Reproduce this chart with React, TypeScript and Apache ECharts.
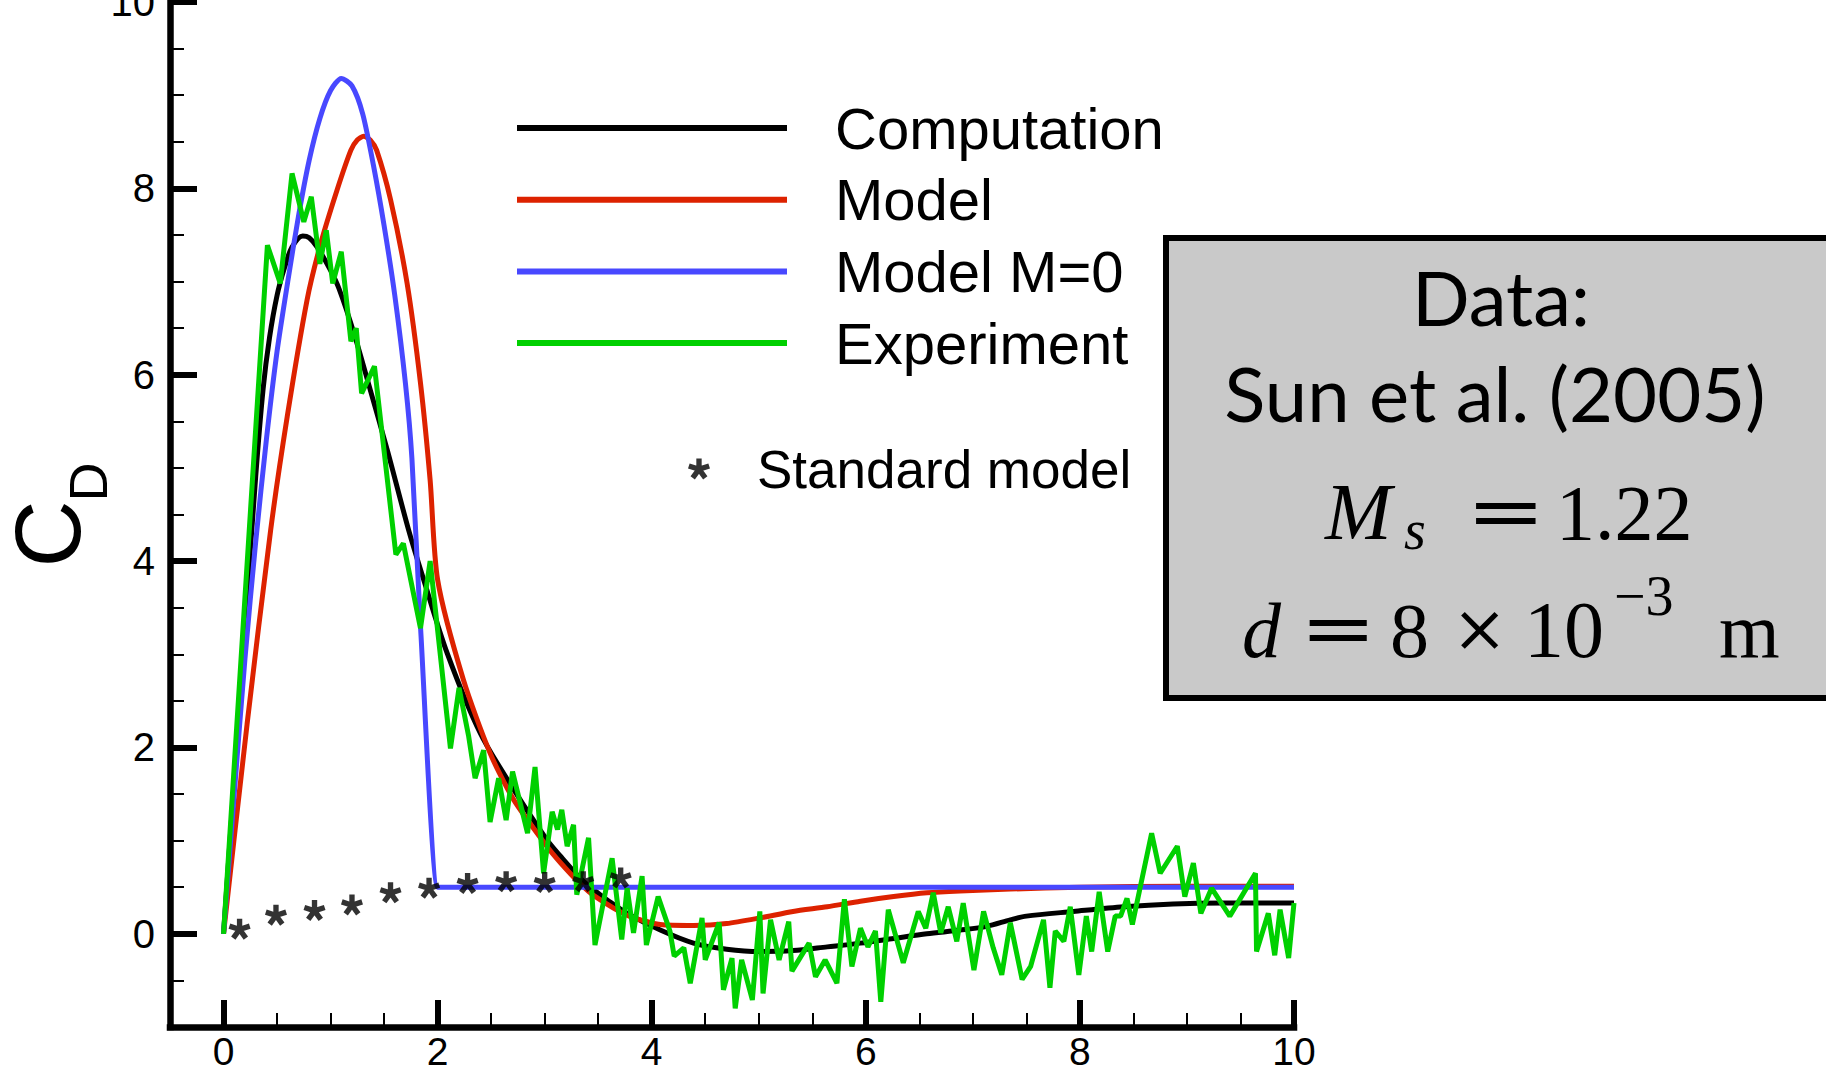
import React, { useEffect, useRef } from "react";
import * as echarts from "echarts";

// ---------------- data ----------------
const X_MAJOR = [0, 2, 4, 6, 8, 10];
const X_MINOR = [0.5, 1, 1.5, 2.5, 3, 3.5, 4.5, 5, 5.5, 6.5, 7, 7.5, 8.5, 9, 9.5];
const Y_MAJOR = [0, 2, 4, 6, 8, 10];
const Y_MINOR = [-0.5, 0.5, 1, 1.5, 2.5, 3, 3.5, 4.5, 5, 5.5, 6.5, 7, 7.5, 8.5, 9, 9.5];

const computation: [number, number][] = [
  [0, 0], [0.1, 1.65], [0.2, 3.3], [0.3, 4.9], [0.37, 5.85], [0.43, 6.4], [0.5, 6.85], [0.57, 7.15],
  [0.64, 7.37], [0.74, 7.49], [0.8, 7.47], [0.875, 7.37], [1.0, 7.12], [1.08, 6.92], [1.22, 6.44],
  [1.37, 5.84], [1.53, 5.19], [1.73, 4.33], [1.87, 3.8], [2.09, 3.01], [2.4, 2.15], [2.71, 1.55],
  [3.02, 1.01], [3.15, 0.83], [3.33, 0.6], [3.46, 0.47], [3.6, 0.35], [3.77, 0.22], [4.08, 0.04],
  [4.39, -0.1], [4.7, -0.165], [5.01, -0.19], [5.32, -0.18], [5.64, -0.14], [5.95, -0.1], [6.26, -0.05],
  [6.57, 0.0], [6.88, 0.04], [7.13, 0.08], [7.35, 0.15], [7.5, 0.19], [7.94, 0.24], [8.41, 0.29],
  [8.87, 0.32], [9.34, 0.33], [10, 0.33],
];

const model: [number, number][] = [
  [0, 0], [0.22, 2.25], [0.44, 4.33], [0.595, 5.55], [0.78, 6.8], [0.906, 7.4], [1.06, 7.98],
  [1.19, 8.41], [1.25, 8.52], [1.31, 8.56], [1.37, 8.52], [1.43, 8.41], [1.56, 7.88], [1.715, 6.98],
  [1.84, 5.91], [1.93, 4.87], [2.0, 3.8], [2.24, 2.73], [2.49, 1.94], [2.71, 1.44], [3.02, 0.94],
  [3.15, 0.76], [3.33, 0.54], [3.46, 0.41], [3.77, 0.2], [4.08, 0.1], [4.39, 0.09], [4.7, 0.11],
  [5.01, 0.17], [5.32, 0.24], [5.64, 0.29], [5.95, 0.35], [6.26, 0.4], [6.57, 0.44], [6.88, 0.46],
  [7.35, 0.48], [8, 0.5], [9, 0.51], [10, 0.51],
];

const modelM0: [number, number][] = [
  [0, 0], [0.1, 1.5], [0.2, 2.95], [0.3, 4.2], [0.4, 5.3], [0.5, 6.25], [0.6, 7.0], [0.7, 7.7],
  [0.8, 8.3], [0.9, 8.75], [1.0, 9.05], [1.1, 9.18], [1.2, 9.1], [1.3, 8.8], [1.4, 8.25], [1.5, 7.6],
  [1.6, 6.85], [1.7, 5.9], [1.76, 5.1], [1.84, 3.3], [2.0, 0.5], [2.04, 0.5], [10, 0.5],
];

const experiment: [number, number][] = [
  [0, 0], [0.41, 7.39], [0.53, 6.98], [0.64, 8.16], [0.75, 7.64], [0.82, 7.91], [0.9, 7.19], [0.96, 7.55],
  [1.02, 6.98], [1.1, 7.32], [1.19, 6.36], [1.24, 6.5], [1.29, 5.8], [1.41, 6.09], [1.61, 4.07],
  [1.68, 4.19], [1.84, 3.28], [1.93, 4.0], [2.12, 1.99], [2.2, 2.64], [2.29, 2.12], [2.35, 1.67],
  [2.43, 1.97], [2.49, 1.2], [2.57, 1.67], [2.64, 1.22], [2.7, 1.74], [2.84, 1.08], [2.91, 1.79],
  [2.99, 0.65], [3.07, 1.31], [3.12, 1.12], [3.16, 1.33], [3.21, 0.94], [3.27, 1.17], [3.3, 0.42],
  [3.41, 1.03], [3.47, -0.12], [3.63, 0.81], [3.72, -0.06], [3.77, 0.49], [3.83, 0.01], [3.91, 0.62],
  [3.95, -0.12], [4.06, 0.4], [4.17, 0.03], [4.21, -0.24], [4.3, -0.15], [4.36, -0.53], [4.47, 0.17],
  [4.5, -0.28], [4.63, 0.12], [4.67, -0.6], [4.75, -0.26], [4.78, -0.8], [4.84, -0.28], [4.94, -0.71],
  [5.01, 0.24], [5.04, -0.64], [5.11, 0.15], [5.19, -0.28], [5.28, 0.13], [5.31, -0.4], [5.47, -0.1],
  [5.53, -0.46], [5.62, -0.28], [5.73, -0.53], [5.8, 0.37], [5.87, -0.35], [5.95, 0.06], [6.02, -0.14],
  [6.09, 0.03], [6.14, -0.73], [6.21, 0.26], [6.35, -0.31], [6.49, 0.24], [6.56, 0.06], [6.63, 0.44],
  [6.7, 0.01], [6.77, 0.29], [6.85, -0.08], [6.91, 0.33], [7.01, -0.39], [7.1, 0.24], [7.19, -0.15],
  [7.27, -0.44], [7.35, 0.12], [7.46, -0.49], [7.54, -0.35], [7.66, 0.15], [7.72, -0.58], [7.77, 0.03],
  [7.85, -0.08], [7.91, 0.29], [7.99, -0.44], [8.06, 0.19], [8.11, -0.19], [8.18, 0.45], [8.26, -0.19],
  [8.33, 0.19], [8.38, 0.19], [8.44, 0.38], [8.49, 0.1], [8.67, 1.08], [8.75, 0.65], [8.91, 0.94],
  [8.98, 0.4], [9.06, 0.76], [9.13, 0.22], [9.23, 0.49], [9.4, 0.19], [9.64, 0.65], [9.65, -0.19],
  [9.76, 0.22], [9.82, -0.23], [9.87, 0.26], [9.95, -0.26], [10, 0.33],
];

const standardX = [0.15, 0.49, 0.85, 1.2, 1.56, 1.92, 2.28, 2.64, 3.0, 3.36, 3.71];
const standardY = [0.05, 0.2, 0.25, 0.31, 0.44, 0.49, 0.54, 0.56, 0.55, 0.56, 0.6];

const LEGEND_NAMES = ["Computation", "Model", "Model M=0", "Experiment"];
const STANDARD_NAME = "Standard model";

// ---------------- styling helpers ----------------
const SANS = "Liberation Sans, Arial, Helvetica, sans-serif";
const SERIF = "Liberation Serif, Times New Roman, serif";
const SERIF2 = "DejaVu Serif, serif";
const GILL = "Lato, Open Sans, sans-serif";

function buildAsterisk(): string {
  const R = 10;
  const t = 5;
  let d = "";
  for (let k = 0; k < 5; k++) {
    const a = Math.PI / 2 + (k * 2 * Math.PI) / 5;
    const ux = Math.cos(a);
    const uy = -Math.sin(a);
    const nx = -uy;
    const ny = ux;
    const b = -t / 2;
    const pts = [
      [b * ux + (nx * t) / 2, b * uy + (ny * t) / 2],
      [R * ux + (nx * t) / 2, R * uy + (ny * t) / 2],
      [R * ux - (nx * t) / 2, R * uy - (ny * t) / 2],
      [b * ux - (nx * t) / 2, b * uy - (ny * t) / 2],
    ].map(([x, y]) => [(x + 12).toFixed(2), (y + 12).toFixed(2)]);
    d += `M${pts[0][0]} ${pts[0][1]}L${pts[1][0]} ${pts[1][1]}L${pts[2][0]} ${pts[2][1]}L${pts[3][0]} ${pts[3][1]}Z`;
  }
  return "path://" + d;
}
const ASTERISK = buildAsterisk();

function txt(
  text: string,
  x: number,
  y: number,
  fontSize: number,
  fontFamily: string,
  extra: any = {}
) {
  const align = extra.align || "left";
  const vAlign = extra.verticalAlign || "middle";
  const style: any = {
    text,
    fontSize,
    fontFamily,
    fontStyle: extra.fontStyle || "normal",
    fontWeight: extra.fontWeight || "normal",
    fill: "#000",
    align,
    verticalAlign: vAlign,
    textAlign: align,
    textVerticalAlign: vAlign,
  };
  if (extra.lineHeight) style.lineHeight = extra.lineHeight;
  return {
    type: "text",
    x,
    y,
    rotation: extra.rotation || 0,
    scaleX: extra.scaleX || 1,
    z: 20,
    style,
  };
}

export default function App() {
  const ref = useRef<HTMLDivElement>(null);

  useEffect(() => {
    if (!ref.current) return;
    const chart = echarts.init(ref.current, null, { renderer: "svg" });

    const axisBase = {
      type: "value",
      splitLine: { show: false },
    };

    const option: any = {
      animation: false,
      backgroundColor: "#ffffff",
      grid: {
        left: 170,
        right: 532,
        top: 2,
        bottom: 45,
        containLabel: false,
        outerBoundsMode: "none",
      },
      xAxis: [
        {
          ...axisBase,
          min: -0.5,
          max: 10,
          position: "bottom",
          axisLine: { show: true, onZero: false, lineStyle: { color: "#000", width: 6.5, cap: "square" } },
          axisTick: { show: true, inside: true, length: 27, lineStyle: { color: "#000", width: 6 }, customValues: X_MAJOR },
          axisLabel: { show: true, customValues: X_MAJOR, fontSize: 39, fontFamily: SANS, color: "#000", margin: 5 },
        },
        {
          ...axisBase,
          min: -0.5,
          max: 10,
          position: "bottom",
          axisLine: { show: false, onZero: false },
          axisTick: { show: true, inside: true, length: 14, lineStyle: { color: "#000", width: 2 }, customValues: X_MINOR },
          axisLabel: { show: false },
        },
      ],
      yAxis: [
        {
          ...axisBase,
          min: -1,
          max: 10,
          position: "left",
          axisLine: { show: true, onZero: false, lineStyle: { color: "#000", width: 6.5, cap: "square" } },
          axisTick: { show: true, inside: true, length: 27, lineStyle: { color: "#000", width: 6 }, customValues: Y_MAJOR },
          axisLabel: { show: true, customValues: Y_MAJOR, fontSize: 40, fontFamily: SANS, color: "#000", margin: 15 },
        },
        {
          ...axisBase,
          min: -1,
          max: 10,
          position: "left",
          axisLine: { show: false, onZero: false },
          axisTick: { show: true, inside: true, length: 14, lineStyle: { color: "#000", width: 2 }, customValues: Y_MINOR },
          axisLabel: { show: false },
        },
      ],
      legend: [
        {
          data: LEGEND_NAMES,
          orient: "vertical",
          left: 517,
          top: 98,
          padding: 0,
          itemWidth: 270,
          itemHeight: 6,
          itemGap: 11.7,
          icon: "rect",
          selectedMode: false,
          textStyle: { fontSize: 58, fontFamily: SANS, color: "#000", lineHeight: 60, padding: [0, 0, 0, 43] },
        },
        {
          data: [{ name: STANDARD_NAME, icon: ASTERISK }],
          orient: "vertical",
          left: 688,
          top: 442,
          padding: 0,
          itemWidth: 22,
          itemHeight: 21,
          selectedMode: false,
          textStyle: { fontSize: 53, fontFamily: SANS, color: "#000", lineHeight: 54, padding: [0, 0, 0, 42] },
        },
      ],
      series: [
        {
          name: "Computation",
          type: "line",
          data: computation,
          symbol: "none",
          smooth: 0.3,
          color: "#000000",
          lineStyle: { width: 5, color: "#000000" },
        },
        {
          name: "Model",
          type: "line",
          data: model,
          symbol: "none",
          smooth: 0.25,
          color: "#dd2200",
          lineStyle: { width: 5, color: "#dd2200" },
        },
        {
          name: "Model M=0",
          type: "line",
          data: modelM0,
          symbol: "none",
          smooth: 0.25,
          color: "#4848ff",
          lineStyle: { width: 5, color: "#4848ff" },
        },
        {
          name: "Experiment",
          type: "line",
          data: experiment,
          symbol: "none",
          color: "#00d000",
          lineStyle: { width: 5, color: "#00d000" },
        },
        {
          name: STANDARD_NAME,
          type: "scatter",
          data: standardX.map((x, i) => [x, standardY[i]]),
          symbol: ASTERISK,
          symbolSize: [22, 21],
          color: "#000000",
          itemStyle: { color: "#000000" },
          z: 5,
        },
      ],
      graphic: [
        // y-axis title C_D (rotated)
        txt("C", 48, 534, 93, SANS, { align: "center", rotation: Math.PI / 2, lineHeight: 80 }),
        txt("D", 88, 482, 54, SANS, { align: "center", rotation: Math.PI / 2 }),
        // data box
        {
          type: "rect",
          z: 10,
          shape: { x: 1166, y: 238, width: 720, height: 460 },
          style: { fill: "#c9c9c9", stroke: "#000000", lineWidth: 6 },
        },
        txt("Data:", 1501, 296, 76, GILL, { align: "center" }),
        txt("Sun et al. (2005)", 1495, 392, 76, GILL, { align: "center" }),
        // M_s = 1.22
        txt("M", 1325, 512, 80, SERIF, { fontStyle: "italic" }),
        txt("s", 1404, 530, 56, SERIF, { fontStyle: "italic" }),
        txt("=", 1466, 510, 76, SERIF2, { scaleX: 1.25 }),
        txt("1.22", 1556, 512, 78, SERIF),
        // d = 8 x 10^-3 m
        txt("d", 1242, 630, 78, SERIF, { fontStyle: "italic" }),
        txt("=", 1300, 628, 76, SERIF2, { scaleX: 1.2 }),
        txt("8", 1390, 630, 78, SERIF),
        txt("\u00d7", 1452, 628, 66, SERIF2),
        txt("10", 1524, 630, 80, SERIF),
        txt("\u22123", 1614, 596, 56, SERIF),
        txt("m", 1719, 630, 78, SERIF),
      ],
    };

    chart.setOption(option);
    return () => chart.dispose();
  }, []);

  return (
    <div
      ref={ref}
      style={{ position: "absolute", left: 0, top: 0, width: 1826, height: 1072, background: "#ffffff" }}
    />
  );
}
